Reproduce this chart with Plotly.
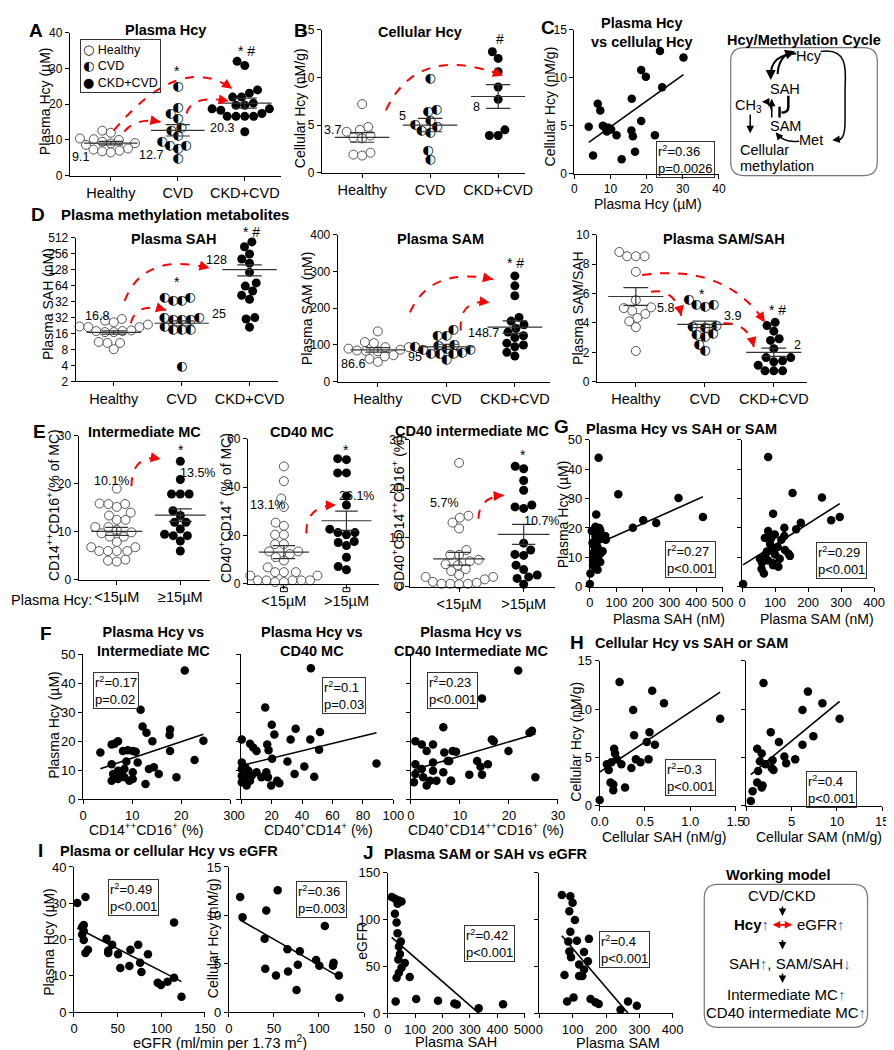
import numpy as np
import plotly.graph_objects as go

W, H = 894, 1050
FONT = "Liberation Sans, Arial, sans-serif"
GLYPH = "DejaVu Sans"
HALF_SIZE = 13
UPC = "#3d6fb6"

# ====================== DATA ======================
groups3 = ["Healthy", "CVD", "CKD+CVD"]
e1_ticks = ["&lt;15µM", "≥15µM"]
e23_ticks = ["&lt;15µM", "&gt;15µM"]
sah_ticks = ["2", "4", "8", "16", "32", "32", "64", "128", "256", "512"]

# A  plasma Hcy (µM)
A_healthy = [12.6, 12.0, 10.4, 10.2, 10.0, 9.5, 9.1, 9.0, 8.6, 7.6, 7.3, 7.0, 6.8, 6.5]
A_cvd = [24.9, 18.9, 17.4, 16.0, 13.4, 12.7, 11.1, 9.5, 8.3, 8.3, 7.4, 4.6]
A_ckd = [32.0, 30.8, 24.0, 23.1, 22.0, 22.0, 20.3, 19.7, 19.7, 18.7, 18.7, 18.3, 17.4,
         16.6, 16.6, 16.6, 16.6, 12.3]
A_mean = [9.1, 12.7, 20.3]
A_sem = [0.5, 1.6, 1.4]

# B  cellular Hcy (nM/g)
B_healthy = [7.2, 4.8, 4.5, 4.3, 3.9, 3.7, 3.6, 2.1, 1.9, 1.8]
B_cvd = [9.9, 6.6, 6.4, 5.5, 5.0, 4.8, 4.4, 4.2, 2.3, 1.4]
B_ckd = [12.7, 12.0, 10.6, 9.0, 7.7, 4.5, 3.9, 3.9]
B_mean = [3.7, 5.0, 8.0]
B_sem = [0.5, 0.7, 1.25]

# C  plasma vs cellular Hcy
C_plasma = [23.7, 30.2, 18.5, 19.8, 24.3, 6.5, 7.2, 15.9, 18.5, 4.0, 7.9, 8.8, 9.5, 10.2,
            11.7, 15.8, 16.2, 22.3, 5.2, 13.1, 16.8, 9.0, 8.3]
C_cellular = [12.8, 12.1, 10.8, 10.1, 9.0, 7.3, 6.6, 7.8, 5.5, 4.9, 5.0, 4.7, 4.8, 4.6,
              4.0, 4.5, 3.9, 4.0, 1.9, 1.5, 2.3, 4.4, 4.9]

# D  plasma SAH (nM), SAM (nM), SAM/SAH
SAH_healthy = [30.1, 28.0, 26.0, 23.6, 21.7, 21.1, 21.1, 18.3, 17.8, 17.8, 17.0, 17.0,
               11.1, 10.6, 10.6, 8.1]
SAH_cvd = [38, 38, 33.8, 33.8, 32, 31.3, 28.8, 28.8, 28.8, 21.1, 18.8, 18.8, 18.8, 3.8]
SAH_ckd = [428, 347, 253, 204, 170, 114, 72, 62.7, 50.6, 42, 35.3, 32, 30.1, 21.1]
SAH_mean = [16.8, 25, 128]
SAH_sem = [1.2, 2.6, 30]

SAM_healthy = [137, 108, 105, 94, 94, 90, 87, 85, 84, 83, 72, 69, 62, 54]
SAM_cvd = [141, 126, 126, 101, 99, 94, 90, 87, 87, 78, 75, 75, 75, 60]
SAM_ckd = [288, 261, 234, 175, 165, 155, 145, 135, 125, 120, 105, 100, 95, 80, 70]
SAM_mean = [86.6, 95, 148.7]
SAM_sem = [6, 7, 17]

RATIO_healthy = [8.83, 8.54, 8.54, 8.54, 7.48, 5.55, 5.06, 5.01, 4.83, 4.61, 4.34, 4.11, 3.71, 2.09]
RATIO_cvd = [5.55, 5.24, 5.24, 5.10, 3.82, 3.75, 3.66, 3.26, 3.21, 3.03, 2.54, 2.09]
RATIO_ckd = [4.04, 3.82, 3.44, 2.92, 2.81, 2.25, 1.64, 1.64, 1.42, 1.35, 1.12, 0.74, 0.74, 0.74]
RATIO_mean = [5.8, 3.9, 2]
RATIO_sem = [0.6, 0.22, 0.28]

# E  monocyte subsets by plasma Hcy
E1_low = [19.0, 15.9, 15.8, 15.8, 15.2, 14.0, 13.4, 12.5, 12.5, 11.0, 11.0, 10.4, 9.9, 9.7,
          9.0, 9.0, 7.9, 6.8, 6.8, 6.0, 6.0, 6.0, 6.0, 4.2, 4.0, 3.8]
E1_high = [24.7, 20.9, 17.9, 17.9, 17.9, 14.4, 13.4, 12.0, 12.0, 10.6, 9.5, 9.2, 9.2, 8.1, 6.0]
E1_mean = [10.1, 13.5]
E1_sem = [0.85, 1.3]
E2_low = [48.6, 42.5, 35.3, 31.8, 25.3, 24.0, 20.3, 20.3, 16.4, 16.4, 13.4, 13.4, 12.3, 11.0,
          9.6, 6.8, 4.8, 4.8, 4.8, 3.4, 3.4, 1.4, 1.4, 1.4, 1.4, 1.4, 0.7, 0.7]
E2_high = [51.8, 51.4, 45.9, 45.9, 36.3, 32.6, 22.6, 21.2, 21.2, 20.3, 17.5, 17.1, 15.8, 11.0, 7.1, 5.8]
E2_mean = [13.1, 26.1]
E2_sem = [2.7, 4.0]
E3_low = [25.3, 14.5, 14.1, 13.1, 11.9, 7.5, 6.5, 6.5, 5.5, 5.2, 4.6, 4.4, 3.6, 3.2, 2.4,
          2.0, 2.0, 1.5, 1.0, 0.8, 0.6, 0.6, 0.6, 0.5]
E3_high = [24.6, 24.1, 21.7, 19.7, 16.7, 16.3, 16.0, 8.9, 7.5, 6.6, 6.4, 4.4, 3.5, 2.4, 2.0, 1.7, 0.5]
E3_mean = [5.7, 10.7]
E3_sem = [1.3, 2.05]

# F  plasma Hcy vs monocyte subsets
F1_cd14 = [3.5, 5.8, 7.1, 6.4, 5.8, 6.1, 5.8, 7.1, 7.8, 7.1, 8.4, 8.1, 9.1, 10.1, 10.7, 8.4, 10.1,
           10.1, 8.8, 11.7, 12.1, 12.9, 11.1, 12.7, 13.4, 14.1, 14.4, 15.4, 17.7, 17.6, 17.7, 19.0,
           20.7, 22.7, 24.5, 9.4]
F1_hcy = [16.1, 18.9, 20.0, 19.1, 12.1, 8.7, 6.4, 9.8, 8.1, 7.0, 10.4, 16.6, 16.9, 16.6, 16.4, 7.6,
          9.3, 7.0, 13.0, 30.8, 25.1, 22.9, 12.7, 5.3, 10.4, 20.0, 11.0, 8.7, 24.0, 22.1, 16.6, 7.6,
          44.3, 13.5, 20.2, 6.4]
F2_cd40 = [0.4, 5.8, 7.9, 10.1, 0.4, 0.4, 2.6, 0.4, 0.4, 4.7, 3.6, 6.9, 10.1, 13.3, 16.5, 15.8, 17.1,
           18.0, 20.1, 21.8, 20.3, 19.7, 17.6, 23.6, 25.1, 30.4, 32.5, 35.8, 35.1, 41.5, 45.8, 45.4,
           48.0, 51.8, 51.2, 88.9, 2.6, 5.8]
F2_hcy = [20.6, 19.1, 17.8, 16.6, 12.7, 10.4, 11.0, 8.1, 5.9, 9.8, 4.8, 8.1, 9.3, 7.6, 9.3, 31.6,
          18.9, 16.9, 25.7, 22.3, 14.0, 4.8, 7.6, 6.4, 5.5, 13.0, 20.6, 24.3, 8.7, 11.3, 45.1, 20.6,
          7.8, 23.2, 17.1, 12.3, 7.6, 6.4]
F3_cd40int = [0.9, 2.2, 3.2, 4.5, 0.9, 0.9, 0.6, 2.2, 2.5, 3.2, 3.9, 4.5, 4.5, 6.6, 6.8, 7.8, 8.5,
              5.2, 8.2, 6.6, 7.5, 9.2, 13.5, 14.2, 14.5, 11.9, 8.1, 15.7, 14.5, 16.5, 16.9, 19.9,
              21.9, 24.2, 24.7, 25.4]
F3_hcy = [20.0, 18.9, 16.6, 18.9, 12.1, 8.7, 5.9, 10.4, 7.6, 4.8, 6.4, 12.7, 9.8, 24.8, 16.1, 13.2,
          16.6, 6.4, 6.4, 9.3, 13.2, 16.4, 13.2, 11.2, 8.5, 8.5, 6.4, 12.1, 34.7, 20.6, 20.0, 16.6,
          44.3, 22.9, 23.6, 7.6]

# G  plasma Hcy vs SAH / SAM
G1_sah = [33, 107, 334, 426, 201, 250, 162, 24, 21, 39, 58, 21, 32, 29, 48, 12, 21, 39, 12, 29, 2,
          0, 7, 15, 29, 39, 12, 18, 25, 30, 15, 22, 45, 60, 35, 10]
G1_hcy = [43.9, 31.5, 30.2, 23.7, 22.6, 21.7, 20.1, 24.6, 20.4, 19.2, 17.3, 17.0, 16.3, 13.4, 12.1,
          11.2, 9.5, 8.4, 7.3, 5.8, 4.5, 0.9, 19, 14.5, 15.7, 11.2, 9.2, 12.5, 18.5, 10.5, 8.0,
          6.5, 16.5, 16.0, 20.0, 15.0]
G2_sam = [79, 153, 242, 270, 296, 94, 178, 164, 128, 128, 79, 69, 99, 119, 141, 108, 89, 79, 94,
          114, 54, 59, 66, 94, 3, 85, 100, 130, 145, 75, 110, 88, 60, 70]
G2_hcy = [44.2, 31.9, 30.4, 22.6, 23.7, 24.8, 21.8, 19.6, 20.1, 17.3, 19, 16.6, 17.8, 16.0, 11.2,
          13.5, 12.3, 8.9, 8.0, 9.5, 9.5, 6.0, 4.5, 7.3, 0.9, 14.5, 11, 12.5, 10.5, 12, 6.8, 16.5,
          8.2, 10.5]

# H  cellular Hcy vs cellular SAH / SAM
H1_sah = [0, 0.1, 0.12, 0.15, 0.15, 0.28, 0.16, 0.17, 0.13, 0.19, 0.24, 0.22, 0.37, 0.38, 0.35,
          0.40, 0.45, 0.55, 0.52, 0.54, 0.61, 0.58, 0.71, 1.33, 0.08]
H1_hcy = [0.6, 3.7, 2.4, 1.6, 2.2, 1.9, 5.9, 5.4, 4.5, 4.8, 4.3, 12.8, 9.9, 7.3, 3.9, 4.8, 4.5,
          7.6, 6.6, 4.8, 6.3, 11.9, 10.6, 9.0, 4.3]
H2_sam = [0.5, 0.7, 1.2, 1.3, 1.2, 1.7, 2.1, 1.8, 1.7, 1.9, 1.5, 2.7, 2.8, 2.9, 3.0, 3.6, 4.2,
          4.4, 5.4, 6.2, 6.8, 6.2, 7.4, 8.4, 10.3]
H2_hcy = [0.5, 1.5, 5.9, 3.6, 2.4, 5.4, 4.3, 2.1, 1.9, 12.7, 4.6, 7.6, 3.9, 4.7, 3.7, 6.6, 5.1,
          4.4, 4.8, 9.9, 11.8, 6.3, 7.2, 10.6, 9.0]

# I  Hcy vs eGFR
I1_egfr = [3.7, 13.1, 9.3, 11.2, 9.3, 11.2, 13.1, 16.0, 11.2, 37.3, 39.2, 39.2, 43.7, 50.4, 53.0,
           64.6, 63.4, 73.5, 75.7, 77.2, 84.7, 95.9, 99.6, 107.1, 114.6, 114.6, 123.1]
I1_hcy = [30.1, 31.7, 23.5, 22.4, 21.4, 19.9, 16.3, 17.2, 24.0, 20.2, 16.3, 16.9, 18.6, 16.0, 12.2,
          17.2, 12.7, 18.6, 13.6, 11.1, 16.0, 8.1, 7.5, 8.4, 9.5, 24.7, 4.3]
I2_egfr = [12.6, 15.2, 41.5, 39.7, 40.4, 54.2, 52.3, 65.0, 65.7, 78.7, 76.5, 75.1, 96.8, 100.4,
           106.5, 115.5, 116.2, 122, 122.7]
I2_hcy = [11.9, 9.8, 10.5, 7.6, 4.5, 12.6, 3.8, 6.5, 4.2, 6.3, 4.9, 2.3, 5.4, 4.8, 8.9, 4.8, 5.1,
          3.8, 1.5]

# J  eGFR vs SAH / SAM
J1_sah = [14.3, 26.2, 40.6, 50, 35.7, 26, 32, 35.7, 47.6, 40.6, 44.3, 38.4, 62.1, 50, 40.6, 32, 80,
          28.6, 103.6, 183.5, 243, 252, 332, 421]
J1_egfr = [123.9, 122, 120.3, 119.2, 116.7, 106.2, 96.8, 85.2, 76.4, 71.2, 63.1, 57.2, 53.6, 48.4,
           43.1, 37.9, 38.6, 12.6, 15.1, 13.4, 10.5, 9.4, 5.3, 9.5]
J2_sam = [67.4, 93, 99.7, 90, 106.7, 93, 87, 112.6, 148.7, 90, 95, 134, 145.7, 119.4, 134, 119.4,
          129, 75.4, 83.3, 102.6, 153.6, 168.3, 178, 243.5, 266, 292.4]
J2_egfr = [126.2, 124.8, 117.8, 108.7, 99.3, 87, 76.4, 77.2, 79.3, 65.9, 59.6, 65.2, 55.4, 51.9,
           46.7, 39.6, 39.6, 40.7, 12.6, 16.8, 15.1, 11.6, 9.9, 3.6, 12.6, 8.1]

# ====================== HELPERS ======================
fig = go.Figure()
lay = dict(width=W, height=H, margin=dict(l=0, r=0, t=0, b=0), paper_bgcolor="white",
           plot_bgcolor="white", showlegend=False,
           font=dict(family=FONT, size=13, color="black"))
shapes, annots = [], []
_n = [0]


def Xp(px):
    return px / W


def Yp(py):
    return 1 - py / H


def P(x, y):
    return f"{Xp(x):.5f},{Yp(y):.5f}"


def add_axes(x0, x1, y0, y1, xr, yr, xk=None, yk=None, tsize=12):
    _n[0] += 1
    s = "" if _n[0] == 1 else str(_n[0])
    base = dict(showline=True, linecolor="black", linewidth=1, ticks="outside", ticklen=4,
                tickcolor="black", tickwidth=1, showgrid=False, zeroline=False,
                tickfont=dict(size=tsize, family=FONT, color="black"), fixedrange=True)
    xa = dict(base, domain=[Xp(x0), Xp(x1)], range=xr, anchor="y" + s)
    ya = dict(base, domain=[Yp(y1), Yp(y0)], range=yr, anchor="x" + s)
    xa.update(xk or {})
    ya.update(yk or {})
    lay["xaxis" + s] = xa
    lay["yaxis" + s] = ya
    return dict(x="x" + s, y="y" + s, sx=(x1 - x0) / (xr[1] - xr[0]), sy=(y1 - y0) / (yr[1] - yr[0]))


def cat_axis(labels):
    return dict(tickvals=list(range(len(labels))), ticktext=labels,
                tickfont=dict(size=14.5, family=FONT, color="black"))


def T(x, y, text, size=13, bold=False, xa="center", ya="middle", color="black", **kw):
    if bold:
        text = f"<b>{text}</b>"
    annots.append(dict(x=Xp(x), y=Yp(y), xref="paper", yref="paper", text=text, showarrow=False,
                       xanchor=xa, yanchor=ya, font=dict(size=size, color=color, family=FONT), **kw))


def stat(x0, y0, text):
    annots.append(dict(x=Xp(x0), y=Yp(y0), xref="paper", yref="paper", xanchor="left",
                       yanchor="top", text=text, showarrow=False, align="left",
                       bordercolor="#333", borderwidth=1, borderpad=1,
                       font=dict(size=13, family=FONT, color="black")))


def swarm(ypix, d):
    ypix = np.asarray(ypix, float)
    xs = np.zeros(len(ypix))
    placed = []
    for i in np.argsort(ypix, kind="stable"):
        y = ypix[i]
        cands = [0.0]
        for (qx, qy) in placed:
            dy = y - qy
            if abs(dy) < d:
                dx = np.sqrt(d * d - dy * dy)
                cands += [qx + dx, qx - dx]
        cands.sort(key=lambda c: (abs(c), c))
        for c in cands:
            if all((c - qx) ** 2 + (y - qy) ** 2 >= d * d - 1e-6 for qx, qy in placed):
                xs[i] = c
                break
        placed.append((xs[i], y))
    return xs


def seg(A, x0, y0, x1, y1, color="#333", w=1.2):
    shapes.append(dict(type="line", xref=A["x"], yref=A["y"], x0=x0, y0=float(y0), x1=x1,
                       y1=float(y1), line=dict(color=color, width=w), layer="above"))


def add_points(A, xs, ys, style, size=9):
    common = dict(x=list(xs), y=list(ys), xaxis=A["x"], yaxis=A["y"], cliponaxis=False,
                  hoverinfo="skip")
    if style == "open":
        fig.add_trace(go.Scatter(mode="markers", marker=dict(symbol="circle", size=size, color="white",
                                                             line=dict(color="#555", width=1)), **common))
    elif style == "half":
        fig.add_trace(go.Scatter(mode="text", text=["◐"] * len(xs), textposition="middle center",
                                 textfont=dict(family=GLYPH, size=HALF_SIZE, color="black"), **common))
    else:
        fig.add_trace(go.Scatter(mode="markers", marker=dict(symbol="circle", size=size, color="black",
                                                             line=dict(width=0)), **common))


def ident(v):
    return np.asarray(v, float)


def dotplot(A, groups, styles, means, sems, ymap=ident, d=9.0):
    for k, (vals, st) in enumerate(zip(groups, styles)):
        yv = ymap(vals)
        xs = k + swarm(yv * A["sy"], d) / A["sx"]
        add_points(A, xs, yv, st)
    for k, (m, s) in enumerate(zip(means, sems)):
        ym, ylo, yhi = float(ymap(m)), float(ymap(m - s)), float(ymap(m + s))
        seg(A, k - 0.4, ym, k + 0.4, ym)
        seg(A, k - 0.18, ylo, k + 0.18, ylo)
        seg(A, k - 0.18, yhi, k + 0.18, yhi)
        seg(A, k, ylo, k, yhi)


def red_arrow(A, p0, pm, p2):
    cx = 2 * pm[0] - (p0[0] + p2[0]) / 2
    cy = 2 * pm[1] - (p0[1] + p2[1]) / 2
    shapes.append(dict(type="path", xref=A["x"], yref=A["y"],
                       path=f"M {p0[0]},{p0[1]} Q {cx},{cy} {p2[0]},{p2[1]}",
                       line=dict(color="red", width=2, dash="dash"), layer="above"))
    dx = (p2[0] - cx) * A["sx"]
    dy = -(p2[1] - cy) * A["sy"]
    L = np.hypot(dx, dy)
    annots.append(dict(x=p2[0], y=p2[1], xref=A["x"], yref=A["y"], text="", showarrow=True,
                       arrowhead=2, arrowsize=1, arrowwidth=2, arrowcolor="red",
                       ax=-dx / L * 8, ay=-dy / L * 8))


def head(x, y, ax, ay, color="black", w=1.5):
    annots.append(dict(x=Xp(x), y=Yp(y), xref="paper", yref="paper", text="", showarrow=True,
                       arrowhead=2, arrowsize=1, arrowwidth=w, arrowcolor=color, ax=ax, ay=ay))


def ppath(path, color="black", w=1.5):
    shapes.append(dict(type="path", xref="paper", yref="paper", path=path,
                       line=dict(color=color, width=w)))


def rrect(x0, y0, x1, y1, r, color="#777"):
    ppath(f"M {P(x0 + r, y0)} L {P(x1 - r, y0)} Q {P(x1, y0)} {P(x1, y0 + r)} "
          f"L {P(x1, y1 - r)} Q {P(x1, y1)} {P(x1 - r, y1)} L {P(x0 + r, y1)} "
          f"Q {P(x0, y1)} {P(x0, y1 - r)} L {P(x0, y0 + r)} Q {P(x0, y0)} {P(x0 + r, y0)} Z",
          color=color, w=1.2)


def scatter(A, xs, ys, size=8.5):
    xs = np.asarray(xs, float)
    ys = np.asarray(ys, float)
    fig.add_trace(go.Scatter(x=xs, y=ys, mode="markers", xaxis=A["x"], yaxis=A["y"],
                             marker=dict(color="black", size=size, line=dict(width=0)),
                             cliponaxis=False, hoverinfo="skip"))
    b, a = np.polyfit(xs, ys, 1)
    xl = np.array([xs.min(), xs.max()])
    fig.add_trace(go.Scatter(x=xl, y=a + b * xl, mode="lines", xaxis=A["x"], yaxis=A["y"],
                             line=dict(color="black", width=1.6), hoverinfo="skip"))


def mean_labels(means, pos, fmt="{:g}", size=12.5):
    for m, (x, y) in zip(means, pos):
        T(x, y, fmt.format(m), size)


def sah_pos(v):
    v = np.asarray(v, float)
    return np.where(v <= 32, np.log2(v) - 1, np.log2(v))


VT = dict(textangle=-90)

# ====================== ROW 1 ======================
A = add_axes(54, 270, 18, 163, [-0.613, 2.54], [0, 40], cat_axis(groups3), dict(dtick=10, tick0=0))
dotplot(A, [A_healthy, A_cvd, A_ckd], ["open", "half", "filled"], A_mean, A_sem)
for arw in [((0.04, 12.6), (0.98, 26.6), (1.81, 24.3)), ((0.2, 12.3), (0.42, 15.0), (0.74, 15.05)),
            ((1.13, 17.4), (1.32, 20.9), (1.76, 20.9))]:
    red_arrow(A, *arw)
mean_labels(A_mean, [(65, 144), (137, 142), (210, 115)])
T(19, 16, "A", 19, True)
T(152, 15, "Plasma Hcy", 14.5, True)
T(28, 87, "Plasma Hcy (µM)", 14, **VT)
T(164, 57, "*", 14)
T(235, 37, "* #", 14)
gs = "<span style='font-family:DejaVu Sans;font-size:13px'>"
annots.append(dict(x=Xp(64), y=Yp(24), xref="paper", yref="paper", xanchor="left", yanchor="top",
                   align="left", showarrow=False, bordercolor="#333", borderwidth=1, borderpad=2,
                   font=dict(size=12.5, family=FONT, color="black"),
                   text=f"{gs}○</span> Healthy<br>{gs}◐</span> CVD<br>{gs}●</span> CKD+CVD"))

B = add_axes(311.7, 520, 15, 160, [-0.594, 2.40], [0, 15], cat_axis(groups3), dict(dtick=5, tick0=0))
dotplot(B, [B_healthy, B_cvd, B_ckd], ["open", "half", "filled"], B_mean, B_sem)
red_arrow(B, (0.35, 6.55), (1.01, 11.0), (2.07, 10.2))
mean_labels(B_mean, [(323, 117), (394, 102), (470, 93)])
T(290, 16, "B", 19, True)
T(412, 17, "Cellular Hcy", 14.5, True)
T(289, 95, "Cellular Hcy (nM/g)", 14, **VT)
T(494, 24, "#", 14)

C = add_axes(570, 718, 15, 161, [0, 40], [0, 15], dict(dtick=10, tick0=0), dict(dtick=5, tick0=0))
scatter(C, C_plasma, C_cellular)
T(543, 13, "C", 19, True)
T(585, 18, "Plasma Hcy<br>vs cellular Hcy", 14.5, True, xa="left")
T(545, 93, "Cellular Hcy (nM/g)", 14, **VT)
T(645, 192, "Plasma Hcy (µM)", 14)
stat(654, 128, "r<sup>2</sup>=0.36<br>p=0.0026")

# Hcy / methylation cycle diagram
T(805, 25, "Hcy/Methylation Cycle", 14.5, True)
rrect(730, 33, 880, 163, 14)
T(810, 42, "Hcy", 14.5)
T(786, 75, "SAH", 14.5)
T(748, 92, "CH<sub>3</sub>", 14.5)
T(786, 113, "SAM", 14.5)
T(812, 127, "Met", 14.5)
T(737, 137, "Cellular", 14.5, xa="left")
T(737, 153, "methylation", 14.5, xa="left")
ppath(f"M {P(822, 37)} C {P(850, 33)} {P(848, 55)} {P(847, 75)} L {P(847, 108)} "
      f"C {P(847, 124)} {P(843, 128)} {P(837, 127)}")
head(834, 127, 8, -1)
ppath(f"M {P(797, 39)} Q {P(770, 40)} {P(771, 63)}", w=2)
head(771, 66, 0, -8, w=2)
ppath(f"M {P(778, 60)} Q {P(779, 42)} {P(793, 37)}", w=2)
head(796, 37, -8, 2.5, w=2)
ppath(f"M {P(800, 128)} Q {P(785, 130)} {P(778, 121)}")
head(776, 119, 5, 6)
ppath(f"M {P(772, 104)} L {P(772, 87)}")
head(772, 85, 0, 8)
ppath(f"M {P(772, 97)} Q {P(771, 89)} {P(764, 88)}")
head(762, 88, 6, 0)
ppath(f"M {P(789, 82)} L {P(789, 93)} Q {P(789, 99)} {P(782, 99)}", w=2.5)
ppath(f"M {P(780, 93)} L {P(780, 104)}", w=2.5)
ppath(f"M {P(750, 101)} L {P(750, 118)}")
head(750, 120, 0, -10)

# ====================== ROW 2 (D) ======================
T(21, 202, "D", 19, True)
T(43, 202, "Plasma methylation metabolites", 15, True, xa="left")

DS = add_axes(60, 267, 226, 371.7, [-0.561, 2.42], [0, 9], cat_axis(groups3),
              dict(tickvals=list(range(10)), ticktext=sah_ticks))
dotplot(DS, [SAH_healthy, SAH_cvd, SAH_ckd], ["open", "half", "filled"], SAH_mean, SAH_sem, ymap=sah_pos)
red_arrow(DS, (0.16, 5.04), (0.61, 7.1), (1.41, 7.1))
red_arrow(DS, (0.25, 3.64), (0.42, 4.53), (0.77, 4.47))
mean_labels(SAH_mean, [(82, 305), (207, 303), (204, 249)])
T(160, 227, "Plasma SAH", 14.5, True)
T(32, 293, "Plasma SAH (nM)", 14, **VT)
T(164, 271, "*", 14)
T(240, 220, "* #", 14)

DM = add_axes(328, 545, 223, 372, [-0.586, 2.51], [0, 400], cat_axis(groups3), dict(dtick=100, tick0=0))
dotplot(DM, [SAM_healthy, SAM_cvd, SAM_ckd], ["open", "half", "filled"], SAM_mean, SAM_sem)
red_arrow(DM, (0.47, 188.8), (0.92, 274), (1.68, 278.7))
red_arrow(DM, (1.21, 139), (1.3, 202), (1.63, 215.8))
mean_labels(SAM_mean, [(344, 354), (407, 347), (477, 323)])
T(433, 227, "Plasma SAM", 14.5, True)
T(296, 297, "Plasma SAM (nM)", 14, **VT)
T(510, 252, "* #", 14)

DR = add_axes(593, 808, 223, 372, [-0.567, 2.48], [0, 10], cat_axis(groups3), dict(dtick=2, tick0=0))
dotplot(DR, [RATIO_healthy, RATIO_cvd, RATIO_ckd], ["open", "half", "filled"], RATIO_mean, RATIO_sem)
red_arrow(DR, (0.09, 7.26), (1.14, 6.85), (1.87, 4.04))
red_arrow(DR, (0.22, 6.13), (0.5, 5.84), (0.66, 4.49))
red_arrow(DR, (1.27, 3.98), (1.56, 3.6), (1.71, 2.36))
mean_labels(RATIO_mean, [(663, 297), (732, 305), (798, 335)])
T(723, 227, "Plasma SAM/SAH", 14.5, True)
T(574, 297, "Plasma SAM/SAH", 14, **VT)
T(701, 283, "*", 14)
T(778, 299, "* #", 14)

# ====================== ROW 3 (E, G) ======================
T(23, 423, "E", 19, True)
T(130, 423, "Intermediate MC", 14.5, True)
T(292, 423, "CD40 MC", 14.5, True)
T(465, 422, "CD40 intermediate MC", 14.5, True)

E1 = add_axes(63, 197, 427, 573, [-0.6, 1.46], [0, 30], cat_axis(e1_ticks), dict(dtick=10, tick0=0))
dotplot(E1, [E1_low, E1_high], ["open", "filled"], E1_mean, E1_sem)
red_arrow(E1, (0.23, 19.5), (0.35, 24.3), (0.69, 25.2))
mean_labels(E1_mean, [(97, 473), (185, 465)], "{:g}%")
T(37, 497, "CD14<sup>++</sup>CD16<sup>+</sup>(% of MC)", 14, **VT)
T(79, 593, "Plasma Hcy:", 14.5, xa="right")
T(168, 441, "*", 14)

E2 = add_axes(236, 370, 430, 577, [-0.578, 1.516], [0, 60], cat_axis(e23_ticks), dict(dtick=20, tick0=0))
dotplot(E2, [E2_low, E2_high], ["open", "filled"], E2_mean, E2_sem)
red_arrow(E2, (0.36, 20.8), (0.47, 29.5), (0.83, 32.6))
mean_labels(E2_mean, [(256, 497), (347, 488)], "{:g}%")
for k in range(2):
    shapes.append(dict(type="rect", xref=E2["x"], yref="paper", x0=k - 0.055, x1=k + 0.055,
                       y0=Yp(585), y1=Yp(581), line=dict(color="black", width=1)))
T(213, 500, "CD40<sup>+</sup>CD14<sup>+</sup> (% of MC)", 14, **VT)
T(337, 441, "*", 14)

E3 = add_axes(402, 550, 431, 580, [-0.76, 1.48], [0, 30], cat_axis(e23_ticks), dict(dtick=10, tick0=0))
dotplot(E3, [E3_low, E3_high], ["open", "filled"], E3_mean, E3_sem)
red_arrow(E3, (0.30, 13.9), (0.40, 17.3), (0.69, 18.7))
mean_labels(E3_mean, [(437, 495), (537, 513)], "{:g}%")
T(390, 505, "CD40<sup>+</sup>CD14<sup>++</sup>CD16<sup>+</sup> (%)", 14, **VT)
T(518, 446, "*", 14)

T(557, 417, "G", 19, True)
T(680, 420, "Plasma Hcy vs SAH or SAM", 14.5, True)
G1 = add_axes(586, 721.7, 431, 580, [0, 500], [0, 50], dict(dtick=100, tick0=0),
              dict(dtick=10, tick0=0), tsize=13)
scatter(G1, G1_sah, G1_hcy)
G2 = add_axes(741.7, 876.7, 431, 580, [0, 400], [0, 50], dict(dtick=100, tick0=0),
              dict(dtick=10, tick0=0, showticklabels=False), tsize=13)
scatter(G2, G2_sam, G2_hcy)
T(558, 507, "Plasma Hcy (µM)", 14, **VT)
T(667, 613, "Plasma SAH (nM)", 14)
T(818, 613, "Plasma SAM (nM)", 14)
stat(663, 534, "r<sup>2</sup>=0.27<br>p&lt;0.001")
stat(817, 535, "r<sup>2</sup>=0.29<br>p&lt;0.001")

# ====================== ROW 4 (F, H) ======================
T(30, 627, "F", 19, True)
T(140, 636, "Plasma Hcy vs<br>Intermediate MC", 14.5, True)
T(302, 636, "Plasma Hcy vs<br>CD40 MC", 14.5, True)
T(464, 636, "Plasma Hcy vs<br>CD40 Intermediate MC", 14.5, True)
F1 = add_axes(67.7, 218.3, 648.3, 795.7, [0, 30], [0, 50], dict(dtick=10, tick0=0),
              dict(dtick=10, tick0=0), tsize=13)
scatter(F1, F1_cd14, F1_hcy)
F2 = add_axes(229.3, 385, 648.3, 795.7, [0, 100], [0, 50], dict(dtick=20, tick0=0),
              dict(dtick=10, tick0=0, showticklabels=False), tsize=13)
scatter(F2, F2_cd40, F2_hcy)
F3 = add_axes(403, 553.3, 648.3, 795.7, [0, 30], [0, 50], dict(dtick=10, tick0=0),
              dict(dtick=10, tick0=0, showticklabels=False), tsize=13)
scatter(F3, F3_cd40int, F3_hcy)
T(38, 720, "Plasma Hcy (µM)", 14, **VT)
T(132, 826, "CD14<sup>++</sup>CD16<sup>+</sup> (%)", 14)
T(308, 826, "CD40<sup>+</sup>CD14<sup>+</sup> (%)", 14)
T(480, 826, "CD40<sup>+</sup>CD14<sup>++</sup>CD16<sup>+</sup> (%)", 14)
stat(78, 667, "r<sup>2</sup>=0.17<br>p=0.02")
stat(312, 672, "r<sup>2</sup>=0.1<br>p=0.03")
stat(419, 667, "r<sup>2</sup>=0.23<br>p&lt;0.001")

T(573, 637, "H", 19, True)
T(690, 637, "Cellular Hcy vs SAH or SAM", 14.5, True)
H1 = add_axes(596, 735, 655, 802.3, [0, 1.5], [0, 15], dict(dtick=0.5, tick0=0, tickformat=".1f"),
              dict(dtick=5, tick0=0), tsize=13)
scatter(H1, H1_sah, H1_hcy)
H2 = add_axes(746, 885, 655, 802.3, [0, 15], [0, 15], dict(dtick=5, tick0=0),
              dict(dtick=5, tick0=0, showticklabels=False), tsize=13)
scatter(H2, H2_sam, H2_hcy)
T(572, 737, "Cellular Hcy (nM/g)", 14, **VT)
T(662, 834, "Cellular SAH (nM/g)", 14)
T(820, 834, "Cellular SAM (nM/g)", 14)
stat(663, 755, "r<sup>2</sup>=0.3<br>p&lt;0.001")
stat(807, 767, "r<sup>2</sup>=0.4<br>p&lt;0.001")

# ====================== ROW 5 (I, J, model) ======================
T(24, 848, "I", 19, True)
T(155, 848, "Plasma or cellular Hcy vs eGFR", 14.5, True)
I1 = add_axes(58.3, 192.3, 864.3, 1011.7, [0, 150], [0, 40], dict(dtick=50, tick0=0),
              dict(dtick=10, tick0=0), tsize=13)
scatter(I1, I1_egfr, I1_hcy)
I2 = add_axes(216.7, 355, 864.3, 1011.7, [0, 150], [0, 15], dict(dtick=50, tick0=0),
              dict(dtick=5, tick0=0), tsize=13)
scatter(I2, I2_egfr, I2_hcy)
T(32, 940, "Plasma Hcy (µM)", 14, **VT)
T(200, 937, "Cellular Hcy (nM/g)", 14, **VT)
T(208, 1042, "eGFR (ml/min per 1.73 m<sup>2</sup>)", 14.5)
stat(93, 877, "r<sup>2</sup>=0.49<br>p&lt;0.001")
stat(285, 879, "r<sup>2</sup>=0.36<br>p=0.003")

T(360, 850, "J", 19, True)
T(480, 851, "Plasma SAM or SAH vs eGFR", 14.5, True)
J1 = add_axes(379.3, 519.3, 870, 1012.7, [0, 500], [0, 150], dict(dtick=100, tick0=0),
              dict(dtick=50, tick0=0), tsize=13)
scatter(J1, J1_sah, J1_egfr)
J2 = add_axes(534.3, 670.7, 870, 1012.7, [0, 400], [0, 150], dict(dtick=100, tick0=0),
              dict(dtick=50, tick0=0, showticklabels=False), tsize=13)
scatter(J2, J2_sam, J2_egfr)
T(352, 940, "eGFR", 14, **VT)
T(449, 1042, "Plasma SAH", 14.5)
T(615, 1043, "Plasma SAM", 14.5)
stat(457, 923, "r<sup>2</sup>=0.42<br>p&lt;0.001")
stat(595, 929, "r<sup>2</sup>=0.4<br>p&lt;0.001")

# working model
T(778, 872, "Working model", 14.5, True)
rrect(703, 882, 870, 1027, 14)
up = f"<span style='color:{UPC}'>↑</span>"
dn = f"<span style='color:{UPC}'>↓</span>"
T(783, 893, "CVD/CKD", 15)
head(783, 914, 0, -11)
T(771, 923, f"<b>Hcy</b>{up}", 15, xa="right")
head(793, 923, -19, 0, color="red")
head(773, 923, 19, 0, color="red")
T(796, 923, f"eGFR{up}", 15, xa="left")
head(783, 948, 0, -11)
T(791, 962, f"SAH{up}, SAM/SAH{dn}", 15)
head(783, 982, 0, -11)
T(787, 994, f"Intermediate MC{up}", 15)
T(787, 1012, f"CD40 intermediate MC{up}", 15)

lay["shapes"] = shapes
lay["annotations"] = annots
fig.update_layout(**lay)
fig.write_html("out.html")
